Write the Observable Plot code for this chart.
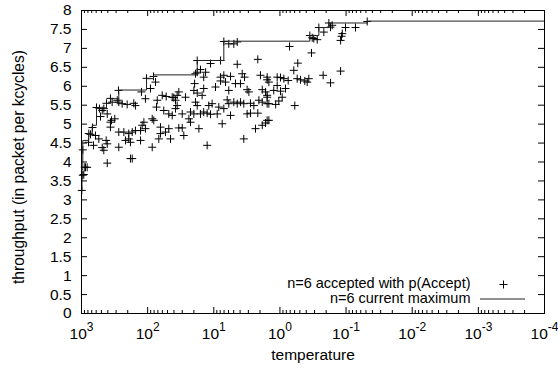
<!DOCTYPE html>
<html><head><meta charset="utf-8">
<script src="https://cdn.jsdelivr.net/npm/d3@7"></script>
<script src="https://cdn.jsdelivr.net/npm/@observablehq/plot@0.6"></script>
<style>body{margin:0;background:#fff;}</style>
</head><body><div id="chart"></div>
<script>
// ---- data ----
const xLabel = "temperature";
const yLabel = "throughput (in packet per kcycles)";
const seriesAccepted = "n=6 accepted with p(Accept)";
const seriesMax = "n=6 current maximum";

const xTickValues = [1e3, 1e2, 1e1, 1e0, 1e-1, 1e-2, 1e-3, 1e-4];
const yTickValues = [0,0.5,1,1.5,2,2.5,3,3.5,4,4.5,5,5.5,6,6.5,7,7.5,8];

// accepted points, temperature 1000..100
const tempA1 = [990,955,923,891,871,821,955,731,614,547,486,424,408,460,408,365,365,352,314,535,460,408,486,344,288,273,243,204,162,153,124,108,229,273,193,193,182,216,273,128,171,153,128,121,114,108,182,171,776,682,593,419,365,276,104,783,659,516];
const tpA1 = [3.25,3.65,3.67,3.86,3.86,3.86,4.32,4.73,4.70,4.61,4.38,4.57,4.48,4.31,3.97,5.05,4.92,5.10,5.14,5.41,5.41,5.27,5.36,5.58,5.63,5.58,5.54,5.52,5.55,5.49,5.85,5.67,4.79,4.79,4.75,4.61,4.52,4.57,4.39,4.57,4.79,4.83,4.83,4.97,5.05,4.88,4.09,4.09,4.75,4.91,5.44,5.55,5.68,5.89,6.21,4.52,4.44,5.20];
// temperature 100..10
const tempA2 = [90.6,76.0,71.6,73.4,60.2,52.4,42.5,57.0,47.9,42.5,85.3,80.7,85.3,64.0,67.8,53.7,47.9,64.0,45.1,81.5,11.2,17.8,15.9,13.3,18.9,14.2,19.5,14.2,20.0,33.8,35.8,17.8,15.0,26.8,40.2,37.9,18.9,35.8,17.8,11.9,10.6,37.9,30.0,22.5,20.0,15.9,14.2,12.6,11.2,23.8,22.5,33.8,30.0,28.4,16.8,12.6,17.8];
const tpA2 = [5.94,6.11,5.63,5.45,5.76,5.73,5.71,5.36,5.27,5.23,5.14,5.10,4.39,4.75,4.61,4.79,4.88,4.92,4.61,6.26,6.60,6.37,6.44,6.37,6.33,6.24,6.07,5.94,5.89,5.85,5.76,5.82,5.76,5.71,5.70,5.63,5.58,5.49,5.49,5.49,5.54,5.41,5.27,5.32,5.27,5.27,5.32,5.29,5.26,5.14,5.05,4.90,4.90,4.70,4.88,4.44,6.68];
// temperature 10..1
const tempA3 = [5.93,4.98,4.42,7.05,7.90,4.42,2.16,7.90,7.05,5.58,7.90,6.65,4.70,3.95,3.72,3.43,1.97,1.56,1.47,9.42,5.93,3.13,2.95,1.85,1.65,8.40,6.27,5.93,4.98,4.42,3.95,3.52,2.79,2.48,2.08,1.85,1.56,1.47,8.87,7.05,5.58,3.13,2.79,2.16,7.46,1.47,1.65,1.85,2.34,3.52,1.56,1.24,1.10,1.10,1.56,1.04,1.16,1.56,1.56];
const tpA3 = [7.12,7.12,7.17,7.18,6.68,6.58,6.71,6.24,6.29,6.26,6.14,6.11,6.07,6.07,6.33,6.24,6.29,6.24,6.11,5.98,5.89,5.91,5.85,5.91,5.85,5.45,5.64,5.54,5.58,5.54,5.58,5.54,5.55,5.49,5.63,5.58,5.71,5.54,5.27,5.41,5.23,5.27,5.29,5.29,5.01,5.10,5.03,4.97,4.88,4.61,6.17,5.89,6.24,6.02,5.76,5.61,5.52,5.54,5.10];
// temperature below 1
const tempA4 = [0.98,0.873,0.750,0.548,0.489,0.421,0.366,0.387,0.98,0.824,0.925,0.596,0.716,0.333,0.537,0.617,0.121,0.222,0.172,0.325,0.308,0.273,0.353,0.258,0.217,0.182,0.162,0.172,0.102,0.114,0.117,0.121,0.0720,0.0479];
const tpA4 = [6.23,6.20,6.15,6.20,6.17,6.14,6.20,6.11,5.87,5.94,5.71,5.49,7.05,6.88,6.61,6.42,6.40,6.29,6.09,7.28,7.26,7.23,7.34,7.55,7.43,7.67,7.61,7.56,7.55,7.39,7.32,7.21,7.55,7.71];

// current maximum (step line)
const tempMax = [1000,983,956,776,689,593,419,364,273,104,81.5,17.8,7.05,0.353,0.258,0.182,0.0479,0.0001];
const tpMax = [3.25,3.8,4.57,4.76,4.97,5.43,5.55,5.67,5.9,6.2,6.3,6.68,7.19,7.34,7.55,7.67,7.72,7.72];

// ---- build ----
const accepted = [];
[[tempA1,tpA1],[tempA2,tpA2],[tempA3,tpA3],[tempA4,tpA4]].forEach(([ts, vs]) => ts.forEach((t,i) => accepted.push({t, v: vs[i]})));
const maxRows = tempMax.map((t,i) => ({t, v: tpMax[i]}));

const xMinor = [];
for (let e = -4; e < 3; e++) for (let k = 2; k <= 9; k++) xMinor.push(k * Math.pow(10, e));

const W = 558, H = 370, mL = 81, mR = 14, mT = 10, mB = 57;
const innerW = W - mL - mR, innerH = H - mT - mB;
const majorLen = 6, minorLen = 3;
const font = "'Liberation Sans', Arial, Helvetica, sans-serif";

const chart = Plot.plot({
  width: W, height: H,
  marginLeft: mL, marginRight: mR, marginTop: mT, marginBottom: mB,
  style: {fontFamily: font, fontSize: "15.5px", color: "#000", background: "#fff", overflow: "visible"},
  x: {type: "log", domain: [1e3, 1e-4]},
  y: {domain: [0, 8]},
  marks: [
    Plot.ruleX(xTickValues, {x: d => d, insetTop: innerH - majorLen, stroke: "#000"}),
    Plot.ruleX(xTickValues, {x: d => d, insetBottom: innerH - majorLen, stroke: "#000"}),
    Plot.ruleX(xMinor, {x: d => d, insetTop: innerH - minorLen, stroke: "#000"}),
    Plot.ruleX(xMinor, {x: d => d, insetBottom: innerH - minorLen, stroke: "#000"}),
    Plot.ruleY(yTickValues, {y: d => d, insetRight: innerW - majorLen, stroke: "#000"}),
    Plot.ruleY(yTickValues, {y: d => d, insetLeft: innerW - majorLen, stroke: "#000"}),
    Plot.axisX({ticks: xTickValues, tickSize: 0, tickPadding: 14, label: null,
      tickFormat: d => "10^" + Math.round(Math.log10(d))}),
    Plot.axisY({ticks: yTickValues, tickSize: 0, tickPadding: 10, label: null, tickFormat: d => String(d)}),
    Plot.dot(accepted, {x: "t", y: "v", symbol: "plus", r: 2.7, stroke: "#000", strokeWidth: 1}),
    Plot.line(maxRows, {x: "t", y: "v", curve: "step-after", stroke: "#222", strokeWidth: 1}),
    Plot.frame({stroke: "#000", strokeWidth: 1}),
    Plot.text([xLabel], {text: d => d, frameAnchor: "bottom", dy: 42, textAnchor: "middle", lineAnchor: "middle"}),
    Plot.text([yLabel], {text: d => d, frameAnchor: "left", dx: -63, dy: 5, rotate: -90, textAnchor: "middle", lineAnchor: "middle", fontSize: 15.6}),
    Plot.text([seriesAccepted], {text: d => d, frameAnchor: "bottom-right", dx: -74, dy: -30, textAnchor: "end", lineAnchor: "middle", fontSize: 14.5}),
    Plot.text([seriesMax], {text: d => d, frameAnchor: "bottom-right", dx: -74, dy: -15, textAnchor: "end", lineAnchor: "middle", fontSize: 14.5}),
    Plot.dot([seriesAccepted], {frameAnchor: "bottom-right", dx: -41, dy: -29, symbol: "plus", r: 2.7, stroke: "#000", strokeWidth: 1}),
    (index, scales, values, dims) => {
      const x0 = dims.width - dims.marginRight, y0 = dims.height - dims.marginBottom;
      return d3.create("svg:line")
        .attr("x1", x0 - 64).attr("x2", x0 - 19)
        .attr("y1", y0 - 14).attr("y2", y0 - 14)
        .attr("stroke", "#222").attr("stroke-width", 1).node();
    }
  ]
});

d3.select(chart).selectAll('g[aria-label="x-axis tick label"] text').each(function() {
  const s = this.textContent;
  const parts = s.split("^");
  if (parts.length !== 2) return;
  const sel = d3.select(this);
  sel.text(parts[0]);
  sel.append("tspan").attr("dy", "-8").attr("font-size", "12px").text(parts[1]);
});

document.getElementById("chart").appendChild(chart);
</script>
</body></html>
